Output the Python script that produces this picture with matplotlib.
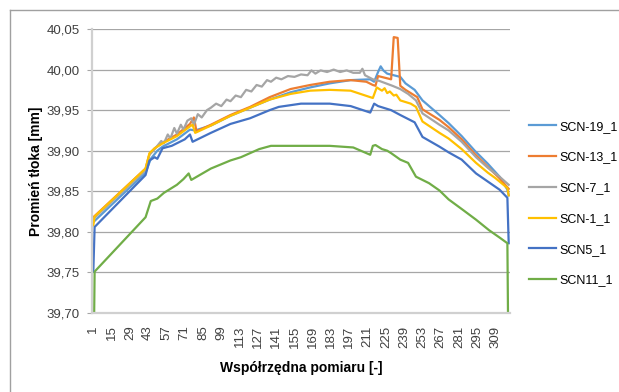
import matplotlib.pyplot as plt
from matplotlib.lines import Line2D

plt.rcParams['font.family'] = ['Liberation Sans', 'DejaVu Sans']

x_scn19 = [1, 41, 45, 50, 54, 65, 75, 79, 91, 106, 121, 136, 152, 167, 182, 198, 213, 216, 219, 221,
           223, 226, 236, 240, 247, 253, 266, 273, 283, 293, 303, 312, 318, 319]
y_scn19 = [39.812, 39.873, 39.890, 39.900, 39.905, 39.914, 39.926, 39.925, 39.931, 39.943, 39.953, 39.963,
           39.972, 39.978, 39.983, 39.987, 39.988, 39.985, 39.997, 40.004, 39.999, 39.995, 39.991, 39.983,
           39.975, 39.962, 39.944, 39.934, 39.918, 39.900, 39.884, 39.868, 39.852, 39.845]

x_scn13 = [1, 41, 44, 48, 54, 65, 75, 78, 80, 91, 106, 121, 136, 152, 167, 182, 198, 210, 215, 217,
           219, 229, 231, 234, 236, 240, 249, 253, 266, 273, 283, 293, 303, 312, 319]
y_scn13 = [39.818, 39.878, 39.896, 39.903, 39.910, 39.920, 39.933, 39.941, 39.924, 39.932, 39.944, 39.954,
           39.966, 39.976, 39.981, 39.985, 39.987, 39.985, 39.981, 39.980, 39.992, 39.988, 40.040, 40.039,
           39.980, 39.975, 39.966, 39.951, 39.938, 39.929, 39.914, 39.896, 39.880, 39.866, 39.853]

x_scn7 = [1, 41, 44, 48, 51, 53, 55, 58, 60, 63, 65, 68, 70, 73, 76, 78, 81, 84, 88, 91,
          95, 99, 103, 106, 110, 114, 118, 122, 126, 130, 134, 137, 141, 145, 150, 155, 160, 165, 168, 171,
          175, 180, 185, 190, 195, 200, 205, 207, 209, 215, 220, 225, 230, 236, 242, 248, 253, 266, 273, 283,
          294, 303, 312, 319]
y_scn7 = [39.816, 39.876, 39.895, 39.902, 39.908, 39.912, 39.909, 39.920, 39.915, 39.928,
          39.921, 39.932, 39.926, 39.937, 39.940, 39.932, 39.945, 39.941, 39.950, 39.953,
          39.958, 39.955, 39.963, 39.961, 39.968, 39.966, 39.975, 39.973, 39.981, 39.979,
          39.987, 39.985, 39.990, 39.988, 39.992, 39.991, 39.994, 39.993, 39.999, 39.995,
          39.999, 39.997, 40.000, 39.997, 39.999, 39.996, 39.996, 40.001, 39.993, 39.988,
          39.986, 39.983, 39.980, 39.976, 39.970, 39.962, 39.946, 39.932, 39.925, 39.911,
          39.892, 39.879, 39.868, 39.858]

x_scn1 = [1, 2, 41, 44, 48, 54, 65, 75, 77, 79, 91, 106, 121, 136, 152, 167, 182, 198, 213, 215,
          218, 220, 222, 224, 226, 228, 231, 233, 236, 244, 248, 253, 266, 273, 283, 294, 303, 309, 318, 319]
y_scn1 = [39.808, 39.819, 39.878, 39.897, 39.903, 39.909, 39.918, 39.930, 39.932, 39.922,
          39.931, 39.943, 39.953, 39.963, 39.970, 39.974, 39.975, 39.974, 39.966, 39.965,
          39.978, 39.976, 39.974, 39.977, 39.971, 39.973, 39.968, 39.969, 39.962, 39.958,
          39.954, 39.936, 39.922, 39.915, 39.902, 39.885, 39.873, 39.866, 39.854, 39.845]

x_scn5 = [1, 2, 41, 44, 48, 50, 54, 61, 71, 75, 77, 91, 106, 121, 136, 143, 160, 182, 198, 213,
          216, 219, 229, 236, 247, 253, 266, 273, 283, 294, 303, 312, 318, 319]
y_scn5 = [39.751, 39.806, 39.870, 39.888, 39.892, 39.890, 39.903, 39.906, 39.914, 39.920,
          39.911, 39.922, 39.933, 39.940, 39.950, 39.954, 39.958, 39.958, 39.955, 39.947,
          39.958, 39.955, 39.950, 39.944, 39.935, 39.917, 39.905, 39.898, 39.889, 39.872,
          39.862, 39.852, 39.842, 39.786]

x_scn11 = [1, 2, 41, 43, 45, 50, 55, 65, 70, 74, 76, 91, 106, 114, 128, 137, 160, 182, 200, 213,
           215, 217, 222, 226, 229, 236, 242, 248, 258, 266, 273, 284, 294, 304, 312, 318, 319]
y_scn11 = [39.600, 39.751, 39.818, 39.828, 39.838, 39.841, 39.848, 39.858, 39.865, 39.872,
           39.864, 39.878, 39.888, 39.892, 39.902, 39.906, 39.906, 39.906, 39.904, 39.895,
           39.906, 39.907, 39.902, 39.900, 39.897, 39.889, 39.885, 39.868, 39.860, 39.851,
           39.840, 39.827, 39.815, 39.802, 39.793, 39.786, 39.600]

series_names = ['SCN-19_1', 'SCN-13_1', 'SCN-7_1', 'SCN-1_1', 'SCN5_1', 'SCN11_1']
series_colors = ['#5b9bd5', '#ed7d31', '#a5a5a5', '#ffc000', '#4472c4', '#70ad47']

x_ticks = list(range(1, 310, 14))
y_ticks = [39.70, 39.75, 39.80, 39.85, 39.90, 39.95, 40.00, 40.05]

W, H = 619, 392
fig = plt.figure(figsize=(W / 100, H / 100), dpi=100)
ax = fig.add_axes([92 / W, 1 - 313 / H, 418 / W, 284 / H])

all_x = [x_scn19, x_scn13, x_scn7, x_scn1, x_scn5, x_scn11]
all_y = [y_scn19, y_scn13, y_scn7, y_scn1, y_scn5, y_scn11]
for xs, ys, name, c in zip(all_x, all_y, series_names, series_colors):
    ax.plot(xs, ys, color=c, lw=1.6, label=name, solid_joinstyle='round')

ax.set_xlim(0, 320)
ax.set_ylim(39.70, 40.05)
ax.set_yticks(y_ticks)
ax.set_yticklabels([f'{v:.2f}'.replace('.', ',') for v in y_ticks], fontsize=9.5, color='#404040')
ax.set_xticks(x_ticks)
ax.set_xticklabels([str(t) for t in x_ticks], rotation=90, fontsize=9.5, color='#404040')
ax.tick_params(axis='y', length=3.6, color='#a6a6a6', pad=5)
ax.tick_params(axis='x', length=0, pad=9)

ax.grid(axis='y', color='#a6a6a6', lw=0.9)
ax.set_axisbelow(True)
for side in ['top', 'right']:
    ax.spines[side].set_visible(False)
for side in ['left', 'bottom']:
    ax.spines[side].set_color('#d0d0d0')
    ax.spines[side].set_linewidth(1.6)

fig.text(36 / W, 1 - 171 / H, 'Promień tłoka [mm]', rotation=90, ha='center', va='center',
         fontweight='bold', fontsize=10)
fig.text(301 / W, 1 - 368 / H, 'Współrzędna pomiaru [-]', ha='center', va='center',
         fontweight='bold', fontsize=10)

fig.legend(loc='center left', bbox_to_anchor=(529 / W, 1 - 203.5 / H), frameon=False,
           fontsize=9, handlelength=2.15, handletextpad=0.25, labelspacing=1.5,
           borderpad=0, borderaxespad=0)

# outer chart frame (top and left edges visible in the crop)
fig.add_artist(Line2D([10 / W, 1], [1 - 10 / H, 1 - 10 / H], color='#a0a0a0', lw=1,
                      transform=fig.transFigure))
fig.add_artist(Line2D([10 / W, 10 / W], [0, 1 - 10 / H], color='#a0a0a0', lw=1,
                      transform=fig.transFigure))

fig.savefig('out.png', dpi=100)
